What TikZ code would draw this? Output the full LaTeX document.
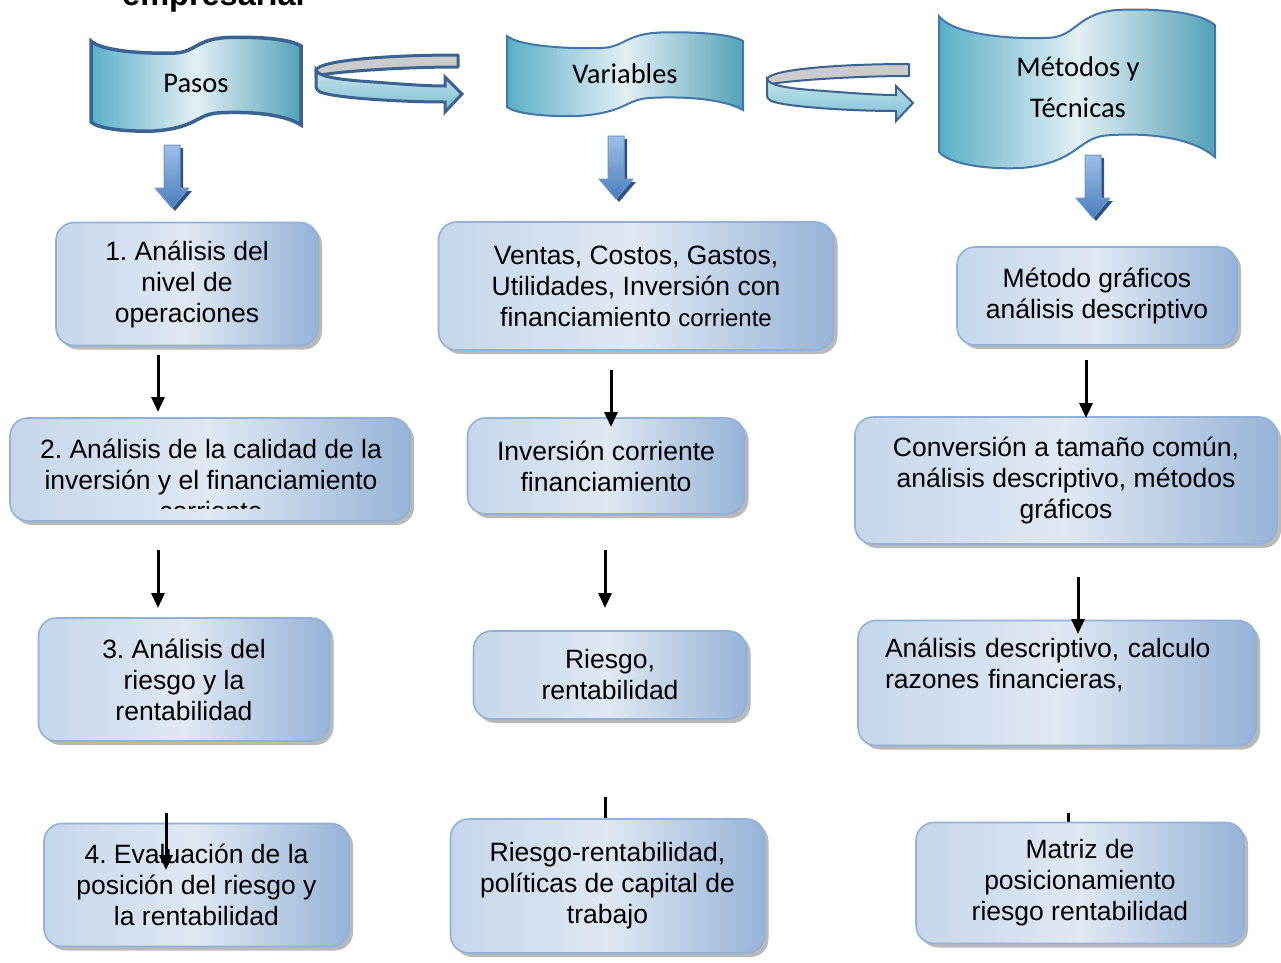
\documentclass[tikz,border=0pt]{standalone}
\usepackage{fontspec}
\setmainfont{Liberation Sans}
\newfontfamily\calibfont{Carlito}
\usetikzlibrary{shadows,arrows.meta}
\definecolor{bandedge}{HTML}{3B6291}
\definecolor{bandedgeb}{HTML}{4377A9}
\definecolor{bannerdark}{HTML}{5AAFC8}
\definecolor{bannerlight}{HTML}{E3EFF5}
\definecolor{boxedge}{HTML}{93B0D9}
\definecolor{boxlight}{HTML}{E0E8F3}
\definecolor{boxdark}{HTML}{96B3D8}
\definecolor{boxleft}{HTML}{C6D6EA}
\definecolor{arrowlight}{HTML}{9DBFE8}
\definecolor{arrowdark}{HTML}{4B7DBA}
\definecolor{arrowshadow}{HTML}{2E5283}
\definecolor{turnfill}{HTML}{7DBED3}
\definecolor{turnfillb}{HTML}{C5E3EC}
\definecolor{backgray}{HTML}{CBCBCB}

% wave banner: x, ytop, width, height, amplitude factor, style
\newcommand\wavebanner[6]{%
\path[#6] ({#1},{#2+4*#5}) .. controls ({#1+0.05*#3},{#2+14*#5}) and ({#1+0.25*#3},{#2+17*#5}) .. ({#1+0.4*#3},{#2+16*#5})
 .. controls ({#1+0.5*#3},{#2+15*#5}) and ({#1+0.5*#3},{#2+2*#5}) .. ({#1+0.65*#3},{#2+0.5*#5})
 .. controls ({#1+0.8*#3},{#2-0.5*#5}) and ({#1+0.95*#3},{#2+2*#5}) .. ({#1+#3},{#2+9*#5})
 -- ({#1+#3},{#2+#4-6*#5})
 .. controls ({#1+0.92*#3},{#2+#4-17*#5}) and ({#1+0.75*#3},{#2+#4-20*#5}) .. ({#1+0.6*#3},{#2+#4-18*#5})
 .. controls ({#1+0.5*#3},{#2+#4-16*#5}) and ({#1+0.5*#3},{#2+#4-3*#5}) .. ({#1+0.3*#3},{#2+#4})
 .. controls ({#1+0.15*#3},{#2+#4+1*#5}) and ({#1+0.03*#3},{#2+#4-3*#5}) .. ({#1},{#2+#4-9*#5}) -- cycle;}

% U-turn ribbon arrow: dx, dy, line width
\newcommand\uturn[3]{%
\begin{scope}[shift={(#1,#2)}]
\path[draw=bandedge, line width=#3, fill=backgray, line join=round]
 (458,55) .. controls (390,55) and (320,60) .. (316,70) -- (316,76)
 .. controls (330,72) and (400,67) .. (458,67) -- cycle;
\path[draw=bandedge, line width=#3, line join=miter, top color=turnfillb, bottom color=turnfill]
 (316,70) .. controls (318,76) and (335,79) .. (360,81) .. controls (400,84) and (425,86) .. (445,86)
 -- (445,77) -- (462,94) -- (445,112) -- (445,102)
 .. controls (400,102) and (335,98) .. (320,92) .. controls (315,89) and (316,86) .. (316,84) -- cycle;
\end{scope}}

% block down arrow: centre x, top y
\newcommand\blockarrow[2]{%
\path[fill=arrowshadow] ({#1-5},{#2+3}) -- ({#1+11},{#2+3}) -- ({#1+11},{#2+46}) -- ({#1+20},{#2+46}) -- ({#1+3},{#2+66}) -- ({#1-14},{#2+46}) -- ({#1-5},{#2+46}) -- cycle;
\path[draw=arrowdark!80, line width=1pt, top color=arrowlight, bottom color=arrowdark] ({#1-8},{#2}) -- ({#1+8},{#2}) -- ({#1+8},{#2+43}) -- ({#1+17},{#2+43}) -- ({#1},{#2+63}) -- ({#1-17},{#2+43}) -- ({#1-8},{#2+43}) -- cycle;}

\begin{document}
\begin{tikzpicture}[x=1pt,y=-1pt,
  box/.style={rounded corners=18pt, draw=boxedge, line width=1.6pt,
    left color=boxleft, right color=boxdark, middle color=boxlight,
    drop shadow={shadow xshift=4pt, shadow yshift=-4pt, fill=black!50, opacity=0.55},
    font=\frenchspacing\fontsize{26.5}{31}\selectfont, align=center, inner sep=0pt},
  boxtxt/.style={font=\frenchspacing\fontsize{26.5}{31}\selectfont, align=center, inner sep=0pt},
  bannerfill/.style={draw=bandedge, left color=bannerdark, right color=bannerdark!92!black, middle color=bannerlight},
  bannertxt/.style={font=\calibfont\fontsize{28.5}{41}\selectfont, align=center, inner sep=0pt},
  conn/.style={draw=black, line width=3pt, -{Triangle[width=13pt,length=15pt]}}
]
\useasboundingbox (0,0) rectangle (1281,962);
\clip (0,0) rectangle (1281,962);

% cut-off title
\node[anchor=base west, inner sep=0pt, font=\bfseries\fontsize{32.5}{38}\selectfont] (title) at (122,5) {empresarial};

% banners
\wavebanner{91}{37}{210}{94}{1}{bannerfill, line width=3.5pt}
\node[bannertxt] (pasos) at (196,83) {Pasos};
\wavebanner{507}{32}{236}{84}{1}{bannerfill, draw=bandedgeb, line width=2pt}
\node[bannertxt] (variables) at (625,74) {Variables};
\wavebanner{939}{9}{276}{159}{1.8}{bannerfill, draw=bandedgeb, line width=2pt}
\node[bannertxt] (metodos) at (1078,87.5) {Métodos y\\Técnicas};

% U-turn arrows
\uturn{0}{0}{3pt}
\uturn{451}{9}{2pt}

% block arrows
\blockarrow{172}{145}
\blockarrow{616}{136}
\blockarrow{1093}{155}

% coordinates for connectors
\coordinate (c1a) at (158,355); \coordinate (c1b) at (158,412);
\coordinate (c2a) at (158,550); \coordinate (c2b) at (158,608);
\coordinate (c3a) at (166,813); \coordinate (c3b) at (166,870);
\coordinate (d1a) at (611,370); \coordinate (d1b) at (611,427);
\coordinate (d2a) at (605,550); \coordinate (d2b) at (605,608);
\coordinate (d3a) at (605,797); \coordinate (d3b) at (605,850);
\coordinate (e1a) at (1086,360); \coordinate (e1b) at (1086,418);
\coordinate (e2a) at (1078,577); \coordinate (e2b) at (1078,634);
\coordinate (e3a) at (1068,813); \coordinate (e3b) at (1068,850);

% hidden connectors (behind boxes)
\draw[conn] (d3a) -- (d3b);
\draw[conn] (e3a) -- (e3b);

% column 1
\node[box, minimum width=262pt, minimum height=123pt] (b1) at (187,284) {1. Análisis del\\nivel de\\operaciones};
\node[box, minimum width=400pt, minimum height=103pt] (b2) at (210,469.5) {};
\begin{scope}
\clip (0,420) rectangle (1281,508);
\node[boxtxt] (b2t) at (211,480) {2. Análisis de la calidad de la\\inversión y el financiamiento\\corriente};
\end{scope}
\node[box, minimum width=291pt, minimum height=123pt] (b3) at (184,679.5) {3. Análisis del\\riesgo y la\\rentabilidad};
\node[box, minimum width=305pt, minimum height=123pt] (b4) at (196.5,885) {4. Evaluación de la\\posición del riesgo y\\la rentabilidad};

% column 2
\node[box, minimum width=395pt, minimum height=128pt] (v1) at (636,286) {Ventas, Costos, Gastos,\\Utilidades, Inversión con\\financiamiento {\fontsize{24}{31}\selectfont corriente}};
\node[box, minimum width=277pt, minimum height=96pt] (v2) at (606,466) {Inversión corriente\\financiamiento};
\node[box, minimum width=273pt, minimum height=88pt] (v3) at (610,675) {Riesgo,\\rentabilidad};
\node[box, minimum width=314pt, minimum height=134pt] (v4) at (607.5,886) {Riesgo-rentabilidad,\\políticas de capital de\\trabajo};

% column 3
\node[box, minimum width=280pt, minimum height=98pt] (m1) at (1097,296) {Método gráficos\\análisis descriptivo};
\node[box, minimum width=422pt, minimum height=127pt] (m2) at (1066,480.5) {Conversión a tamaño común,\\análisis descriptivo, métodos\\gráficos};
\node[box, minimum width=398pt, minimum height=125pt, text width=344pt, align=left] (m3) at (1057,683) {Análisis descriptivo, calculo\\razones financieras,\\\strut};
\node[box, minimum width=328pt, minimum height=121pt] (m4) at (1080,883) {Matriz de\\posicionamiento\\riesgo rentabilidad};

% visible connectors
\draw[conn] (c1a) -- (c1b);
\draw[conn] (c2a) -- (c2b);
\draw[conn] (c3a) -- (c3b);
\draw[conn] (d1a) -- (d1b);
\draw[conn] (d2a) -- (d2b);
\draw[conn] (e1a) -- (e1b);
\draw[conn] (e2a) -- (e2b);
\end{tikzpicture}
\end{document}
